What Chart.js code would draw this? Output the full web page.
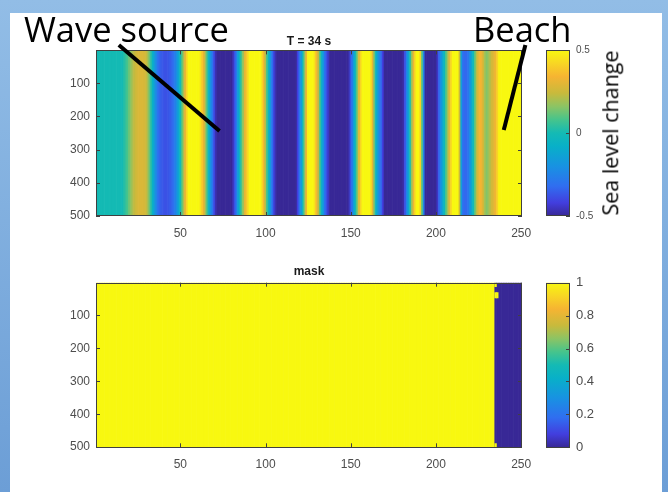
<!DOCTYPE html>
<html>
<head>
<meta charset="utf-8">
<script src="https://cdn.jsdelivr.net/npm/chart.js@4.4.1/dist/chart.umd.min.js"></script>
<style>
    body { margin: 0; width: 668px; height: 492px; overflow: hidden; position: relative;
           background: linear-gradient(#92bde6, #6c9ed6); }
    #panel { position: absolute; left: 10px; top: 13px; width: 652px; height: 479px; background: #fff; }
    canvas { position: absolute; }
    .note { position: absolute; font-family: "Open Sans", sans-serif; color: #000; line-height: 1; white-space: nowrap; }
</style>
</head>
<body>
<div id="panel"></div>
<canvas id="waveChart" width="618" height="250" style="left:0;top:0"></canvas>
<canvas id="waveBar" width="130" height="236" style="left:500px;top:0"></canvas>
<canvas id="maskChart" width="618" height="260" style="left:0;top:232px"></canvas>
<canvas id="maskBar" width="130" height="236" style="left:500px;top:232px"></canvas>
<div class="note" style="left:24px;top:12px;font-size:34.5px">Wave source</div>
<div class="note" style="left:473px;top:12px;font-size:34.5px">Beach</div>
<div class="note" style="left:610px;top:133px;font-size:21.5px;transform:translate(-50%,-50%) rotate(-90deg)">Sea level change</div>

<script>
// sea level change along the channel, one value per column (1..250)
const waveValues = [
    0, 0, 0, 0, 0, 0, 0, 0, 0, 0,
    0, 0, 0, 0, 0, 0, 0.02, 0.05, 0.08, 0.12,
    0.16, 0.2, 0.23, 0.25, 0.27, 0.28, 0.28, 0.28, 0.27, 0.25,
    0.2, 0.12, 0.03, -0.07, -0.16, -0.24, -0.3, -0.34, -0.36, -0.37,
    -0.38, -0.38, -0.37, -0.36, -0.34, -0.31, -0.27, -0.21, -0.12, -0.03,
    0.08, 0.2, 0.32, 0.42, 0.5, 0.6, 0.6, 0.6, 0.6, 0.6,
    0.6, 0.45, 0.38, 0.3, 0.18, 0.05, -0.08, -0.2, -0.3, -0.4,
    -0.47, -0.6, -0.6, -0.6, -0.6, -0.6, -0.6, -0.6, -0.6, -0.6,
    -0.47, -0.38, -0.28, -0.15, -0.03, 0.08, 0.18, 0.3, 0.38, 0.45,
    0.6, 0.6, 0.6, 0.6, 0.6, 0.6, 0.6, 0.45, 0.35, 0.22,
    0.08, -0.05, -0.18, -0.3, -0.4, -0.47, -0.6, -0.6, -0.6, -0.6,
    -0.6, -0.6, -0.6, -0.6, -0.6, -0.6, -0.6, -0.6, -0.42, -0.3,
    -0.18, -0.02, 0.15, 0.32, 0.48, 0.6, 0.6, 0.6, 0.45, 0.35,
    0.25, 0.1, -0.05, -0.18, -0.3, -0.38, -0.45, -0.52, -0.6, -0.6,
    -0.6, -0.6, -0.6, -0.6, -0.6, -0.6, -0.6, -0.6, -0.48, -0.38,
    -0.28, -0.15, 0, 0.15, 0.3, 0.42, 0.52, 0.6, 0.6, 0.6,
    0.6, 0.45, 0.3, 0.12, -0.05, -0.15, -0.25, -0.33, -0.42, -0.5,
    -0.6, -0.6, -0.6, -0.6, -0.6, -0.6, -0.6, -0.6, -0.6, -0.6,
    -0.48, -0.38, -0.25, -0.12, 0.02, 0.18, 0.32, 0.45, 0.55, 0.58,
    0.4, 0.1, -0.25, -0.5, -0.6, -0.6, -0.6, -0.6, -0.6, -0.6,
    -0.45, -0.33, -0.22, -0.12, -0.03, 0.08, 0.18, 0.3, 0.42, 0.58,
    0.58, 0.58, 0.58, 0.25, -0.15, -0.3, -0.33, -0.33, -0.3, -0.22,
    -0.12, -0.02, 0.1, 0.22, 0.3, 0.34, 0.32, 0.25, 0.18, 0.15,
    0.18, 0.22, 0.26, 0.29, 0.33, 0.4, 0.48, 0.6, 0.6, 0.6,
    0.6, 0.6, 0.6, 0.6, 0.6, 0.6, 0.6, 0.6, 0.6, 0.6
];

// mask: 1 (water) up to this column, 0 beyond it, plus a few odd cells at the shoreline
const maskLastWetCol = 234;
const maskPatchCols = [235, 235, 236, 235];
const maskPatchRowFrom = [1, 31, 31, 490];
const maskPatchRowTo = [12, 46, 46, 500];

const nCols = 250;
const nRows = 500;
const xTicks = [50, 100, 150, 200, 250];
const yTicks = [100, 200, 300, 400, 500];
const waveBarTicks = [-0.5, 0, 0.5];
const maskBarTicks = [0, 0.2, 0.4, 0.6, 0.8, 1];

// parula-like colour map, 0 -> 1
const cmap = [
    [0, [56, 40, 150]],
    [0.08, [66, 62, 222]],
    [0.18, [48, 110, 240]],
    [0.3, [24, 146, 226]],
    [0.42, [8, 176, 200]],
    [0.5, [20, 186, 180]],
    [0.58, [70, 196, 140]],
    [0.66, [140, 196, 100]],
    [0.74, [200, 186, 60]],
    [0.84, [246, 180, 50]],
    [0.92, [248, 214, 36]],
    [1, [248, 248, 16]]
];

function parula(t) {
    t = Math.max(0, Math.min(1, t));
    for (let i = 1; i < cmap.length; i++) {
        if (t <= cmap[i][0]) {
            const a = cmap[i - 1], b = cmap[i];
            const f = (t - a[0]) / (b[0] - a[0]);
            const c = a[1].map((v, k) => Math.round(v + (b[1][k] - v) * f));
            return "rgb(" + c.join(",") + ")";
        }
    }
    return "rgb(248,248,16)";
}

const tickFont = { family: "Liberation Sans", size: 12 };
const tickColor = "#4d4d4d";

// box round the axes and small inward tick marks, like MATLAB
const frame = {
    id: "frame",
    afterDatasetsDraw(chart, args, opts) {
        const { ctx, chartArea: a } = chart;
        ctx.save();
        ctx.strokeStyle = "#404040";
        ctx.lineWidth = 1;
        ctx.strokeRect(Math.round(a.left) + 0.5, Math.round(a.top) + 0.5,
                       Math.round(a.width) - 1, Math.round(a.height) - 1);
        ctx.beginPath();
        if (opts.xTicks) {
            chart.scales.x.ticks.forEach(t => {
                const px = Math.round(chart.scales.x.getPixelForValue(t.value)) + 0.5;
                ctx.moveTo(px, a.bottom); ctx.lineTo(px, a.bottom - 4);
                ctx.moveTo(px, a.top); ctx.lineTo(px, a.top + 4);
            });
        }
        const ys = chart.scales.y;
        ys.ticks.forEach(t => {
            const py = Math.round(ys.getPixelForValue(t.value)) + 0.5;
            if (opts.left) { ctx.moveTo(a.left, py); ctx.lineTo(a.left + 4, py); }
            ctx.moveTo(a.right, py); ctx.lineTo(a.right - 4, py);
        });
        ctx.stroke();
        ctx.restore();
    }
};

// the two black pointer lines, in data units of the upper plot
const pointers = {
    id: "pointers",
    afterDraw(chart, args, opts) {
        const { ctx, scales: { x, y } } = chart;
        ctx.save();
        ctx.strokeStyle = "#000";
        ctx.lineWidth = 4;
        opts.lines.forEach(l => {
            ctx.beginPath();
            ctx.moveTo(x.getPixelForValue(l[0]), y.getPixelForValue(l[1]));
            ctx.lineTo(x.getPixelForValue(l[2]), y.getPixelForValue(l[3]));
            ctx.stroke();
        });
        ctx.restore();
    }
};

function heatmapOptions(title, titlePad, xAxisHeight, extra) {
    return {
        responsive: false,
        animation: false,
        plugins: {
            legend: { display: false },
            tooltip: { enabled: false },
            title: {
                display: true, text: title, color: "#1a1a1a",
                font: { family: "Liberation Sans", size: 12, weight: "bold" },
                padding: titlePad
            },
            frame: { xTicks: true, left: true },
            pointers: extra || { lines: [] }
        },
        scales: {
            x: {
                type: "linear", min: 0.5, max: nCols + 0.5, offset: false,
                afterBuildTicks: s => { s.ticks = xTicks.map(v => ({ value: v })); },
                afterFit: s => { s.height = xAxisHeight; },
                grid: { display: false, drawTicks: false },
                border: { display: false },
                ticks: { font: tickFont, color: tickColor, padding: 10, maxRotation: 0 }
            },
            y: {
                type: "linear", reverse: true, min: 0.5, max: nRows + 0.5,
                afterBuildTicks: s => { s.ticks = yTicks.map(v => ({ value: v })); },
                afterFit: s => { s.width = 96; },
                grid: { display: false, drawTicks: false },
                border: { display: false },
                ticks: { font: tickFont, color: tickColor, padding: 6 }
            },
            // empty right-hand margin so the title centres over the plot
            side: {
                type: "linear", position: "right", min: 0, max: 1,
                afterFit: s => { s.width = 96; },
                grid: { display: false, drawTicks: false },
                border: { display: false },
                ticks: { display: false }
            }
        }
    };
}

function colorbarOptions(lo, hi, ticks, fontSize, padTop, padBottom) {
    return {
        responsive: false,
        animation: false,
        layout: { padding: { left: 46, right: 0, top: padTop, bottom: padBottom } },
        plugins: { legend: { display: false }, tooltip: { enabled: false }, frame: { xTicks: false, left: false } },
        scales: {
            x: { display: false },
            y: {
                position: "right", min: lo, max: hi,
                afterBuildTicks: s => { s.ticks = ticks.map(v => ({ value: v })); },
                afterFit: s => { s.width = 60; },
                grid: { display: false, drawTicks: false },
                border: { display: false },
                ticks: { font: { family: "Liberation Sans", size: fontSize }, color: tickColor, padding: 6,
                         callback: v => String(v) }
            }
        }
    };
}

function gradientFill(c) {
    const chart = c.chart;
    const y = chart.scales.y;
    if (!chart.chartArea || !y) return "#888";
    const g = chart.ctx.createLinearGradient(0, y.getPixelForValue(y.min), 0, y.getPixelForValue(y.max));
    cmap.forEach(s => g.addColorStop(s[0], "rgb(" + s[1].join(",") + ")"));
    return g;
}

const cols = waveValues.map((v, i) => i + 1);

// upper plot: snapshot of the wave field
new Chart(document.getElementById("waveChart"), {
    type: "bar",
    data: {
        datasets: [{
            data: cols.map(c => ({ x: c, y: [0.5, nRows + 0.5] })),
            backgroundColor: c => parula(waveValues[c.dataIndex] + 0.5),
            barPercentage: 1, categoryPercentage: 1, borderWidth: 0
        }]
    },
    options: heatmapOptions("T = 34 s", { top: 34, bottom: 2 }, 34,
        { lines: [[13.9, -16, 73, 244], [252.5, -16, 239.8, 241]] }),
    plugins: [frame, pointers]
});

new Chart(document.getElementById("waveBar"), {
    type: "bar",
    data: { labels: ["c"], datasets: [{ data: [[-0.5, 0.5]], backgroundColor: gradientFill,
            barPercentage: 1, categoryPercentage: 1, borderWidth: 0 }] },
    options: colorbarOptions(-0.5, 0.5, waveBarTicks, 10, 50, 20),
    plugins: [frame]
});

// lower plot: wet / dry mask (first dataset is drawn on top)
new Chart(document.getElementById("maskChart"), {
    type: "bar",
    data: {
        datasets: [{
            data: maskPatchCols.map((c, i) => ({ x: c, y: [maskPatchRowFrom[i] - 0.5, maskPatchRowTo[i] + 0.5] })),
            backgroundColor: parula(1),
            barPercentage: 1, categoryPercentage: 1, borderWidth: 0, grouped: false
        }, {
            data: cols.map(c => ({ x: c, y: [0.5, nRows + 0.5] })),
            backgroundColor: c => parula(c.dataIndex + 1 <= maskLastWetCol ? 1 : 0),
            barPercentage: 1, categoryPercentage: 1, borderWidth: 0, grouped: false
        }]
    },
    options: heatmapOptions("mask", { top: 32, bottom: 4.3 }, 44.7),
    plugins: [frame]
});

new Chart(document.getElementById("maskBar"), {
    type: "bar",
    data: { labels: ["c"], datasets: [{ data: [[0, 1]], backgroundColor: gradientFill,
            barPercentage: 1, categoryPercentage: 1, borderWidth: 0 }] },
    options: colorbarOptions(0, 1, maskBarTicks, 13, 50.7, 20.7),
    plugins: [frame]
});
</script>
</body>
</html>
